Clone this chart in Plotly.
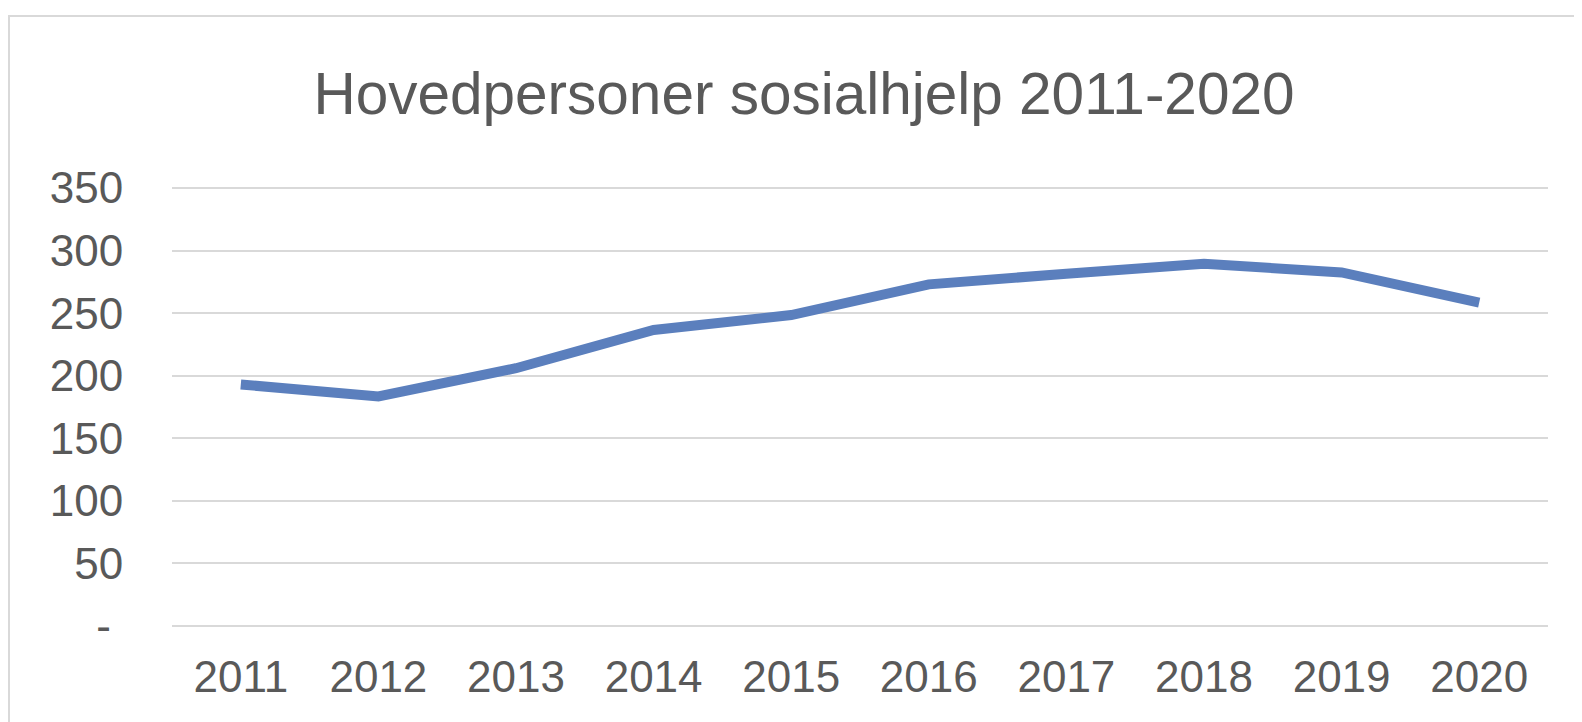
import plotly.graph_objects as go

years = ["2011", "2012", "2013", "2014", "2015", "2016", "2017", "2018", "2019", "2020"]
values = [193, 183.5, 206, 236.5, 248.5, 273, 281.5, 289.5, 282.5, 258.5]
y_tickvals = [0, 50, 100, 150, 200, 250, 300, 350]
y_ticktext = ["-\u00a0", "50", "100", "150", "200", "250", "300", "350"]

FONT = "Liberation Sans, Arial, Helvetica, sans-serif"
GREY = "#595959"

fig = go.Figure()
fig.add_trace(go.Scatter(
    x=years, y=values, mode="lines",
    line=dict(color="#5B7FBD", width=10),
    showlegend=False,
))

fig.update_layout(
    width=1574, height=714,
    paper_bgcolor="white", plot_bgcolor="white",
    margin=dict(l=164, r=34, t=178, b=94),
    title=dict(
        text="Hovedpersoner sosialhjelp 2011-2020",
        x=0.5057, xanchor="center", y=0.8796, yanchor="middle",
        font=dict(family=FONT, size=58.5, color=GREY),
    ),
    xaxis=dict(
        type="category", range=[-0.5, 9.5], automargin=False,
        showgrid=False, zeroline=False, showline=False,
        tickfont=dict(family=FONT, size=44, color=GREY),
        ticks="outside", ticklen=10, tickcolor="rgba(0,0,0,0)",
    ),
    yaxis=dict(
        range=[-1.6, 351.6], tickvals=y_tickvals, ticktext=y_ticktext,
        automargin=False,
        showgrid=True, gridcolor="#D9D9D9", gridwidth=2,
        zeroline=False, showline=False,
        tickfont=dict(family=FONT, size=44, color=GREY),
        ticks="outside", ticklen=39, tickcolor="rgba(0,0,0,0)",
    ),
    shapes=[
        dict(type="rect", xref="paper", yref="paper",
             x0=-0.11846, x1=1.2, y0=-0.5, y1=1.3846,
             line=dict(color="#D9D9D9", width=2), layer="below"),
    ],
)

fig.write_html("out.html")
